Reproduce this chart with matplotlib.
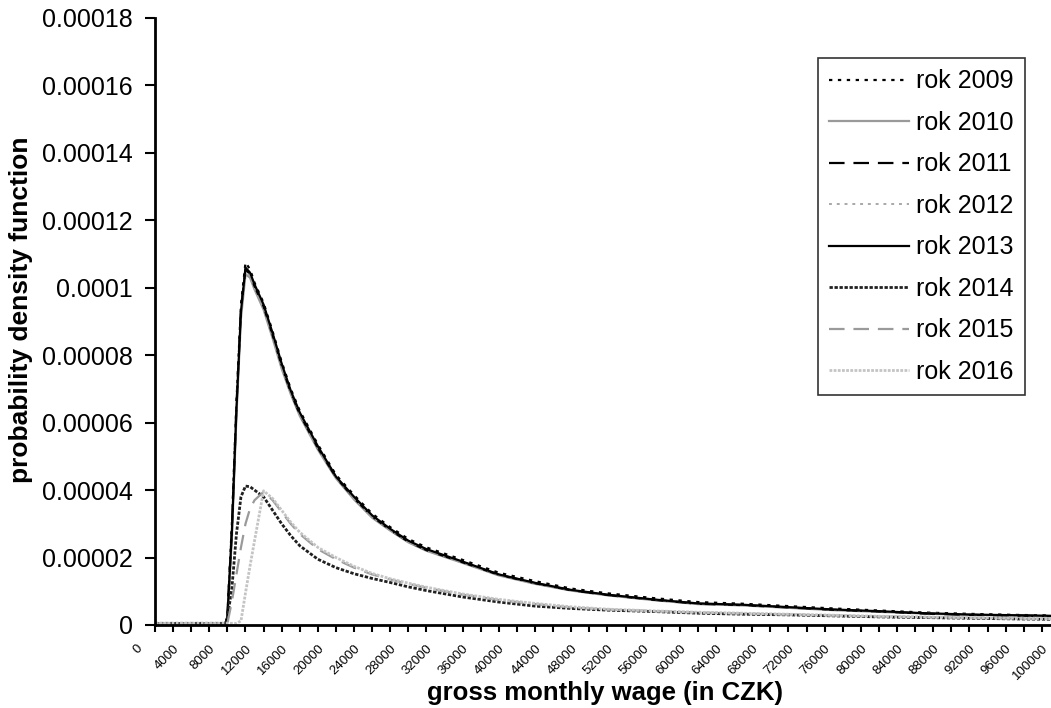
import matplotlib
matplotlib.use("Agg")
import matplotlib.pyplot as plt
import matplotlib.transforms as mtransforms
import numpy as np

# gross monthly wage (CZK) and density values (in units of 1e-5)
wage = [0, 4000, 7800, 8000, 8500, 9000, 9500, 10000, 10500, 11000, 12000,
        13000, 14000, 15000, 16000, 18000, 20000, 22000, 24000, 26000, 28000,
        30000, 34000, 38000, 42000, 46000, 50000, 55000, 60000, 65000, 70000,
        75000, 80000, 85000, 90000, 95000, 102000]

rok_2009 = [0.05, 0.05, 0.05, 0.3, 3.0, 6.6, 9.5, 10.75, 10.55, 10.15, 9.55,
            8.7, 7.8, 7.0, 6.35, 5.35, 4.45, 3.85, 3.3, 2.9, 2.55, 2.3, 1.93,
            1.55, 1.3, 1.08, 0.94, 0.8, 0.68, 0.63, 0.56, 0.49, 0.43, 0.37,
            0.33, 0.3, 0.27]
rok_2010 = [0.05, 0.05, 0.05, 0.2, 2.6, 6.2, 9.1, 10.4, 10.3, 9.95, 9.35,
            8.5, 7.6, 6.85, 6.2, 5.2, 4.35, 3.72, 3.18, 2.8, 2.45, 2.2, 1.84,
            1.47, 1.22, 1.02, 0.88, 0.74, 0.62, 0.58, 0.51, 0.44, 0.39, 0.34,
            0.3, 0.28, 0.25]
rok_2011 = [0.05, 0.05, 0.05, 0.25, 2.9, 6.5, 9.4, 10.55, 10.4, 10.05, 9.45,
            8.6, 7.7, 6.9, 6.25, 5.25, 4.38, 3.76, 3.22, 2.82, 2.47, 2.22, 1.86,
            1.49, 1.24, 1.03, 0.89, 0.75, 0.63, 0.59, 0.52, 0.45, 0.4, 0.34,
            0.3, 0.28, 0.25]
rok_2012 = [0.05, 0.05, 0.05, 0.22, 2.7, 6.3, 9.2, 10.5, 10.35, 10.0, 9.4,
            8.55, 7.65, 6.9, 6.25, 5.25, 4.38, 3.75, 3.2, 2.82, 2.47, 2.22,
            1.85, 1.48, 1.23, 1.03, 0.89, 0.75, 0.63, 0.59, 0.52, 0.45, 0.4,
            0.35, 0.31, 0.28, 0.25]
rok_2013 = [0.05, 0.05, 0.05, 0.25, 2.8, 6.4, 9.3, 10.6, 10.45, 10.1, 9.5,
            8.65, 7.75, 6.95, 6.3, 5.3, 4.4, 3.8, 3.25, 2.85, 2.5, 2.25, 1.88,
            1.5, 1.25, 1.04, 0.9, 0.76, 0.64, 0.6, 0.53, 0.46, 0.41, 0.35,
            0.31, 0.29, 0.26]
rok_2014 = [0.05, 0.05, 0.05, 0.2, 1.1, 2.7, 3.8, 4.12, 4.1, 4.0, 3.8, 3.4,
            3.0, 2.65, 2.35, 1.95, 1.7, 1.52, 1.38, 1.26, 1.13, 1.02, 0.83,
            0.68, 0.56, 0.49, 0.44, 0.4, 0.35, 0.32, 0.3, 0.27, 0.24, 0.22,
            0.2, 0.18, 0.16]
rok_2015 = [0.05, 0.05, 0.05, 0.05, 0.7, 1.5, 2.3, 3.0, 3.45, 3.7, 3.95, 3.7,
            3.35, 3.0, 2.7, 2.25, 1.95, 1.7, 1.5, 1.35, 1.22, 1.1, 0.9, 0.74,
            0.62, 0.52, 0.46, 0.41, 0.37, 0.34, 0.31, 0.28, 0.25, 0.23, 0.21,
            0.19, 0.17]
rok_2016 = [0.05, 0.05, 0.05, 0.05, 0.05, 0.05, 0.12, 0.95, 1.75, 2.5, 3.98,
            3.75, 3.4, 3.05, 2.75, 2.3, 2.0, 1.74, 1.53, 1.37, 1.24, 1.12,
            0.92, 0.76, 0.64, 0.54, 0.47, 0.42, 0.38, 0.35, 0.32, 0.29, 0.26,
            0.24, 0.22, 0.2, 0.18]

years = ["rok 2009", "rok 2010", "rok 2011", "rok 2012",
         "rok 2013", "rok 2014", "rok 2015", "rok 2016"]
series = [rok_2009, rok_2010, rok_2011, rok_2012,
          rok_2013, rok_2014, rok_2015, rok_2016]

x_ticks = list(range(0, 102001, 2000))
x_label_pos = list(range(0, 100001, 4000))
x_labels = [str(t) for t in x_label_pos]
y_ticks = [0, 0.00002, 0.00004, 0.00006, 0.00008, 0.0001,
           0.00012, 0.00014, 0.00016, 0.00018]
y_labels = ["0", "0.00002", "0.00004", "0.00006", "0.00008", "0.0001",
            "0.00012", "0.00014", "0.00016", "0.00018"]

styles = [
    dict(color="black", ls=(0, (1.5, 2.5)), lw=1.6),
    dict(color="#9a9a9a", ls="-", lw=1.6),
    dict(color="black", ls=(0, (7, 4)), lw=1.6),
    dict(color="#a8a8a8", ls=(0, (1.5, 2.5)), lw=1.4),
    dict(color="black", ls="-", lw=1.6),
    dict(color="#202020", ls=(0, (1.2, 0.6)), lw=2.0),
    dict(color="#9a9a9a", ls=(0, (7, 4)), lw=1.6),
    dict(color="#c4c4c4", ls=(0, (1.0, 0.5)), lw=2.0),
]

plt.rcParams['font.family'] = ['Liberation Sans', 'DejaVu Sans']

fig = plt.figure(figsize=(10.51, 7.08), dpi=100)
ax = fig.add_axes([155 / 1051, 1 - 625 / 708, 923 / 1051, 607 / 708])

w = np.array(wage)
for lab, vals, st in zip(years, series, styles):
    ax.plot(w, np.array(vals) * 1e-5, label=lab, **st)

ax.set_xlim(0, 102000)
ax.set_ylim(0, 0.00018)
ax.set_xticks(x_ticks)
ax.set_xticklabels([])
# rotated category labels, nudged left like the original spreadsheet chart
lab_tr = ax.get_xaxis_transform() + mtransforms.ScaledTranslation(
    -14 / 100, -22 / 100, fig.dpi_scale_trans)
for pos, txt in zip(x_label_pos, x_labels):
    ax.text(pos, 0, txt, transform=lab_tr, rotation=45, ha="right",
            va="center", rotation_mode="anchor", fontsize=9.5, clip_on=False)
ax.set_yticks(y_ticks)
ax.set_yticklabels(y_labels, fontsize=18)
ax.tick_params(axis="x", direction="out", length=5, width=1.5)
ax.tick_params(axis="y", direction="out", length=7, width=1.5, pad=9)

ax.spines["top"].set_visible(False)
ax.spines["right"].set_visible(False)
ax.spines["left"].set_linewidth(2)
ax.spines["bottom"].set_linewidth(2)

fig.text(605 / 1051, 1 - 693 / 708, "gross monthly wage (in CZK)",
         fontsize=18.5, fontweight="bold", va="center", ha="center")
fig.text(21 / 1051, 1 - 310 / 708, "probability density function",
         fontsize=19, fontweight="bold", rotation=90, va="center", ha="center")

leg = ax.legend(loc="upper right", bbox_to_anchor=(1025 / 1051, 1 - 58 / 708),
                bbox_transform=fig.transFigure, fontsize=18, frameon=True,
                fancybox=False, edgecolor="black", handlelength=3.2,
                handletextpad=0.3, labelspacing=0.7, borderpad=0.45,
                borderaxespad=0)
leg.get_frame().set_linewidth(1.2)

fig.savefig("out.png", dpi=100)
